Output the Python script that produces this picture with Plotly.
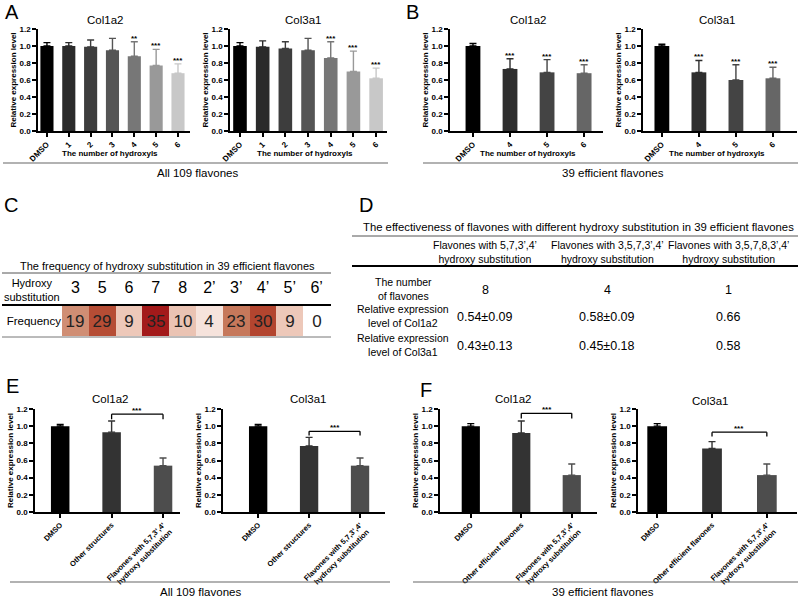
import plotly.graph_objects as go

W, H = 798, 597
FONT = 'Arial, Liberation Sans, sans-serif'


def px(x):
    return x / W


def py(y):
    return 1 - y / H


# ---- data ---------------------------------------------------------------
# A: all 109 flavones
hyd_all = ['DMSO', '1', '2', '3', '4', '5', '6']
a_col1a2 = [1.00, 1.00, 0.99, 0.95, 0.88, 0.77, 0.68]
a_col1a2_err = [0.04, 0.04, 0.08, 0.14, 0.17, 0.19, 0.11]
a_col1a2_sig = ['', '', '', '', '**', '***', '***']
a_col3a1 = [1.00, 0.99, 0.97, 0.95, 0.86, 0.70, 0.62]
a_col3a1_err = [0.04, 0.07, 0.08, 0.14, 0.19, 0.24, 0.12]
a_col3a1_sig = ['', '', '', '', '***', '***', '***']
a_colors = ['#000000', '#2b2b2b', '#3d3d3d', '#555555', '#777777', '#999999', '#c8c8c8']

# B: 39 efficient flavones
hyd_eff = ['DMSO', '4', '5', '6']
b_col1a2 = [1.00, 0.73, 0.69, 0.68]
b_col1a2_err = [0.03, 0.12, 0.15, 0.10]
b_col3a1 = [1.00, 0.69, 0.60, 0.62]
b_col3a1_err = [0.02, 0.14, 0.18, 0.13]
b_sig = ['', '***', '***', '***']
b_colors = ['#000000', '#2e2e2e', '#444444', '#666666']

# C: frequency of hydroxy substitution
subst = ['3', '5', '6', '7', '8', '2’', '3’', '4’', '5’', '6’']
freq = [19, 29, 9, 35, 10, 4, 23, 30, 9, 0]

# D: effectiveness table
d_columns = ['Flavones with 5,7,3’,4’<br>hydroxy substitution',
             'Flavones with 3,5,7,3’,4’<br>hydroxy substitution',
             'Flavones with 3,5,7,8,3’,4’<br>hydroxy substitution']
d_rows = ['The number<br>of flavones',
          'Relative expression<br>level of Col1a2',
          'Relative expression<br>level of Col3a1']
d_values = [['8', '4', '1'],
            ['0.54±0.09', '0.58±0.09', '0.66'],
            ['0.43±0.13', '0.45±0.18', '0.58']]

# E / F
e_groups = ['DMSO', 'Other structures', 'Flavones with 5,7,3’,4’<br>hydroxy substitution']
e_col1a2 = [1.00, 0.93, 0.54]
e_col1a2_err = [0.02, 0.13, 0.09]
e_col3a1 = [1.00, 0.77, 0.54]
e_col3a1_err = [0.02, 0.10, 0.09]
f_groups = ['DMSO', 'Other efficient flavones', 'Flavones with 5,7,3’,4’<br>hydroxy substitution']
f_col1a2 = [1.00, 0.92, 0.43]
f_col1a2_err = [0.03, 0.14, 0.13]
f_col3a1 = [1.00, 0.74, 0.43]
f_col3a1_err = [0.03, 0.08, 0.13]
ef_colors = ['#000000', '#333333', '#4d4d4d']
ef_sig = ['', '', '']

fig = go.Figure()
annotations = []
shapes = []


def note(x, y, text, size, **kw):
    # text placed in pixel coordinates of the page
    d = dict(x=px(x), y=py(y), xref='paper', yref='paper', text=text, showarrow=False,
             xanchor='center', yanchor='middle', font=dict(size=size, color='#000'))
    d.update(kw)
    annotations.append(d)


def hline(x0, x1, y, color, width):
    shapes.append(dict(type='line', xref='paper', yref='paper', x0=px(x0), x1=px(x1),
                       y0=py(y), y1=py(y), line=dict(color=color, width=width)))


def add_bar_panel(n, cats, vals, errs, colors, sig, xdom, ydom, xr, bw,
                  title, title_xy, tick_size=8, bracket=None):
    xa = 'x' if n == 1 else f'x{n}'
    ya = 'y' if n == 1 else f'y{n}'
    for c, v, e, col in zip(cats, vals, errs, colors):
        fig.add_trace(go.Bar(
            x=[c], y=[v], width=bw, xaxis=xa, yaxis=ya,
            marker=dict(color=col, line=dict(width=0)),
            error_y=dict(type='data', array=[e], arrayminus=[0], symmetric=False,
                         color=col, thickness=1.4, width=3.5),
        ))
    for i, (v, e, s) in enumerate(zip(vals, errs, sig)):
        if s:
            annotations.append(dict(x=i, y=v + e, xref=xa, yref=ya, text=s, showarrow=False,
                                    xanchor='center', yanchor='bottom', yshift=-3,
                                    font=dict(size=8, color='#000', weight='bold')))
    if bracket:
        yb, ytk = bracket
        for x0, y0, x1, y1 in [(1, ytk, 1, yb), (1, yb, 2, yb), (2, yb, 2, ytk)]:
            shapes.append(dict(type='line', xref=xa, yref=ya, x0=x0, y0=y0, x1=x1, y1=y1,
                               line=dict(color='#000', width=1.3)))
        annotations.append(dict(x=1.5, y=yb, xref=xa, yref=ya, text='***', showarrow=False,
                                xanchor='center', yanchor='bottom', yshift=-3,
                                font=dict(size=8, color='#000', weight='bold')))
    key = 'xaxis' if n == 1 else f'xaxis{n}'
    ykey = 'yaxis' if n == 1 else f'yaxis{n}'
    fig.layout[key] = dict(
        domain=[px(xdom[0]), px(xdom[1])], range=xr, type='category', anchor=ya,
        showline=True, linecolor='#000', linewidth=1.5, ticks='outside', ticklen=4,
        tickwidth=1.5, tickcolor='#000', tickangle=-45, showgrid=False, zeroline=False,
        tickfont=dict(size=tick_size, color='#000', weight='bold'), automargin=False,
    )
    fig.layout[ykey] = dict(
        domain=[py(ydom[1]), py(ydom[0])], range=[0, 1.2], dtick=0.2, tickformat='.1f',
        anchor=xa, showline=True, linecolor='#000', linewidth=1.5, ticks='outside',
        ticklen=4, tickwidth=1.5, tickcolor='#000', showgrid=False, zeroline=False,
        tickfont=dict(size=8, color='#000', weight='bold'), automargin=False,
        title=dict(text='Relative expression level', standoff=2,
                   font=dict(size=8, color='#000', weight='bold')),
    )
    note(title_xy[0], title_xy[1], title, 11.5)


# A
add_bar_panel(1, hyd_all, a_col1a2, a_col1a2_err, a_colors, a_col1a2_sig,
              (38, 190), (29, 131), [-0.41, 6.55], 0.6, 'Col1a2', (105, 20))
add_bar_panel(2, hyd_all, a_col3a1, a_col3a1_err, a_colors, a_col3a1_sig,
              (230, 387), (29, 131), [-0.44, 6.48], 0.6, 'Col3a1', (303, 20))
# B
add_bar_panel(3, hyd_eff, b_col1a2, b_col1a2_err, b_colors, b_sig,
              (450, 603), (29, 131), [-0.62, 3.51], 0.4, 'Col1a2', (528, 20))
add_bar_panel(4, hyd_eff, b_col3a1, b_col3a1_err, b_colors, b_sig,
              (643, 797), (29, 131), [-0.51, 3.65], 0.4, 'Col3a1', (717, 20))
# E
add_bar_panel(5, e_groups, e_col1a2, e_col1a2_err, ef_colors, ef_sig,
              (35, 180), (409, 512), [-0.49, 2.33], 0.36, 'Col1a2', (110, 399),
              tick_size=7.5, bracket=(1.14, 1.08))
add_bar_panel(6, e_groups, e_col3a1, e_col3a1_err, ef_colors, ef_sig,
              (223, 385), (409, 512), [-0.69, 2.49], 0.36, 'Col3a1', (308, 399),
              tick_size=7.5, bracket=(0.94, 0.89))
# F
add_bar_panel(7, f_groups, f_col1a2, f_col1a2_err, ef_colors, ef_sig,
              (440, 597), (409, 512), [-0.61, 2.5], 0.36, 'Col1a2', (513, 399),
              tick_size=7.5, bracket=(1.15, 1.09))
add_bar_panel(8, f_groups, f_col3a1, f_col3a1_err, ef_colors, ef_sig,
              (638, 797), (409, 512), [-0.35, 2.55], 0.36, 'Col3a1', (710, 401),
              tick_size=7.5, bracket=(0.93, 0.88))

# hydroxyl axis captions for A and B
for xc in (110, 305, 528, 717):
    note(xc, 154, 'The number of hydroxyls', 8, font=dict(size=8, color='#000', weight='bold'))

# group underlines and captions
for x0, x1, y, text, xc, yt in [(3, 388, 163, 'All 109 flavones', 197, 173),
                                 (423, 798, 163, '39 efficient flavones', 613, 173),
                                 (10, 390, 582, 'All 109 flavones', 200, 592),
                                 (413, 798, 582, '39 efficient flavones', 603, 592)]:
    hline(x0, x1, y, '#666', 1.2)
    note(xc, yt, text, 11.5)

# panel letters
for letter, x, y in [('A', 12, 12), ('B', 412, 12), ('C', 11, 205), ('D', 366, 205),
                     ('E', 12, 386), ('F', 426, 390)]:
    note(x, y, letter, 20)

# C: heatmap
fig.add_trace(go.Heatmap(
    x=subst, y=['Frequency'], z=[freq], xaxis='x9', yaxis='y9', zmin=0, zmax=35,
    colorscale=[[0, '#ffffff'], [0.12, '#f6e2da'], [0.28, '#ebc4b4'], [0.55, '#cf8d72'],
                [0.66, '#c6775a'], [0.84, '#b54a32'], [1, '#a31a1a']],
    showscale=False, texttemplate='%{z}', textfont=dict(size=17, color='#222'),
    hoverinfo='skip',
))
fig.layout['xaxis9'] = dict(domain=[px(62), px(330)], anchor='y9', side='top', type='category',
                            showgrid=False, zeroline=False, showline=False, ticks='outside',
                            ticklen=5, tickcolor='rgba(0,0,0,0)',
                            tickfont=dict(size=16, color='#000'))
fig.layout['yaxis9'] = dict(domain=[py(336), py(305)], anchor='x9', showgrid=False,
                            zeroline=False, showline=False, ticks='',
                            tickfont=dict(size=11.5, color='#000'))
note(32, 290, 'Hydroxy<br>substitution', 11)
note(167, 266, 'The frequency of hydroxy substitution in 39 efficient flavones', 11)
hline(2, 331, 273, '#555', 1)
hline(2, 331, 305, '#000', 2)
hline(2, 331, 337, '#777', 1)

# D: table
note(578, 227, 'The effectiveness of flavones with different hydroxy substitution '
               'in 39 efficient flavones', 11.3)
hline(352, 798, 236, '#555', 1)
hline(352, 798, 266, '#000', 2)
col_x = [485, 607, 728]
row_y = [289, 316, 345]
for cx, head in zip(col_x, d_columns):
    note(cx, 252, head, 10.5)
for ry, lab, vals in zip(row_y, d_rows, d_values):
    note(403, ry, lab, 10.5)
    for cx, v in zip(col_x, vals):
        note(cx, ry + 1, v, 12.5)

fig.update_layout(
    width=W, height=H, margin=dict(l=0, r=0, t=0, b=0),
    paper_bgcolor='white', plot_bgcolor='white', showlegend=False,
    barmode='overlay', font=dict(family=FONT, color='#000'),
    annotations=annotations, shapes=shapes,
)

fig.write_html('out.html', config={'displayModeBar': False},
               post_script="document.body.style.margin = '0px';")
